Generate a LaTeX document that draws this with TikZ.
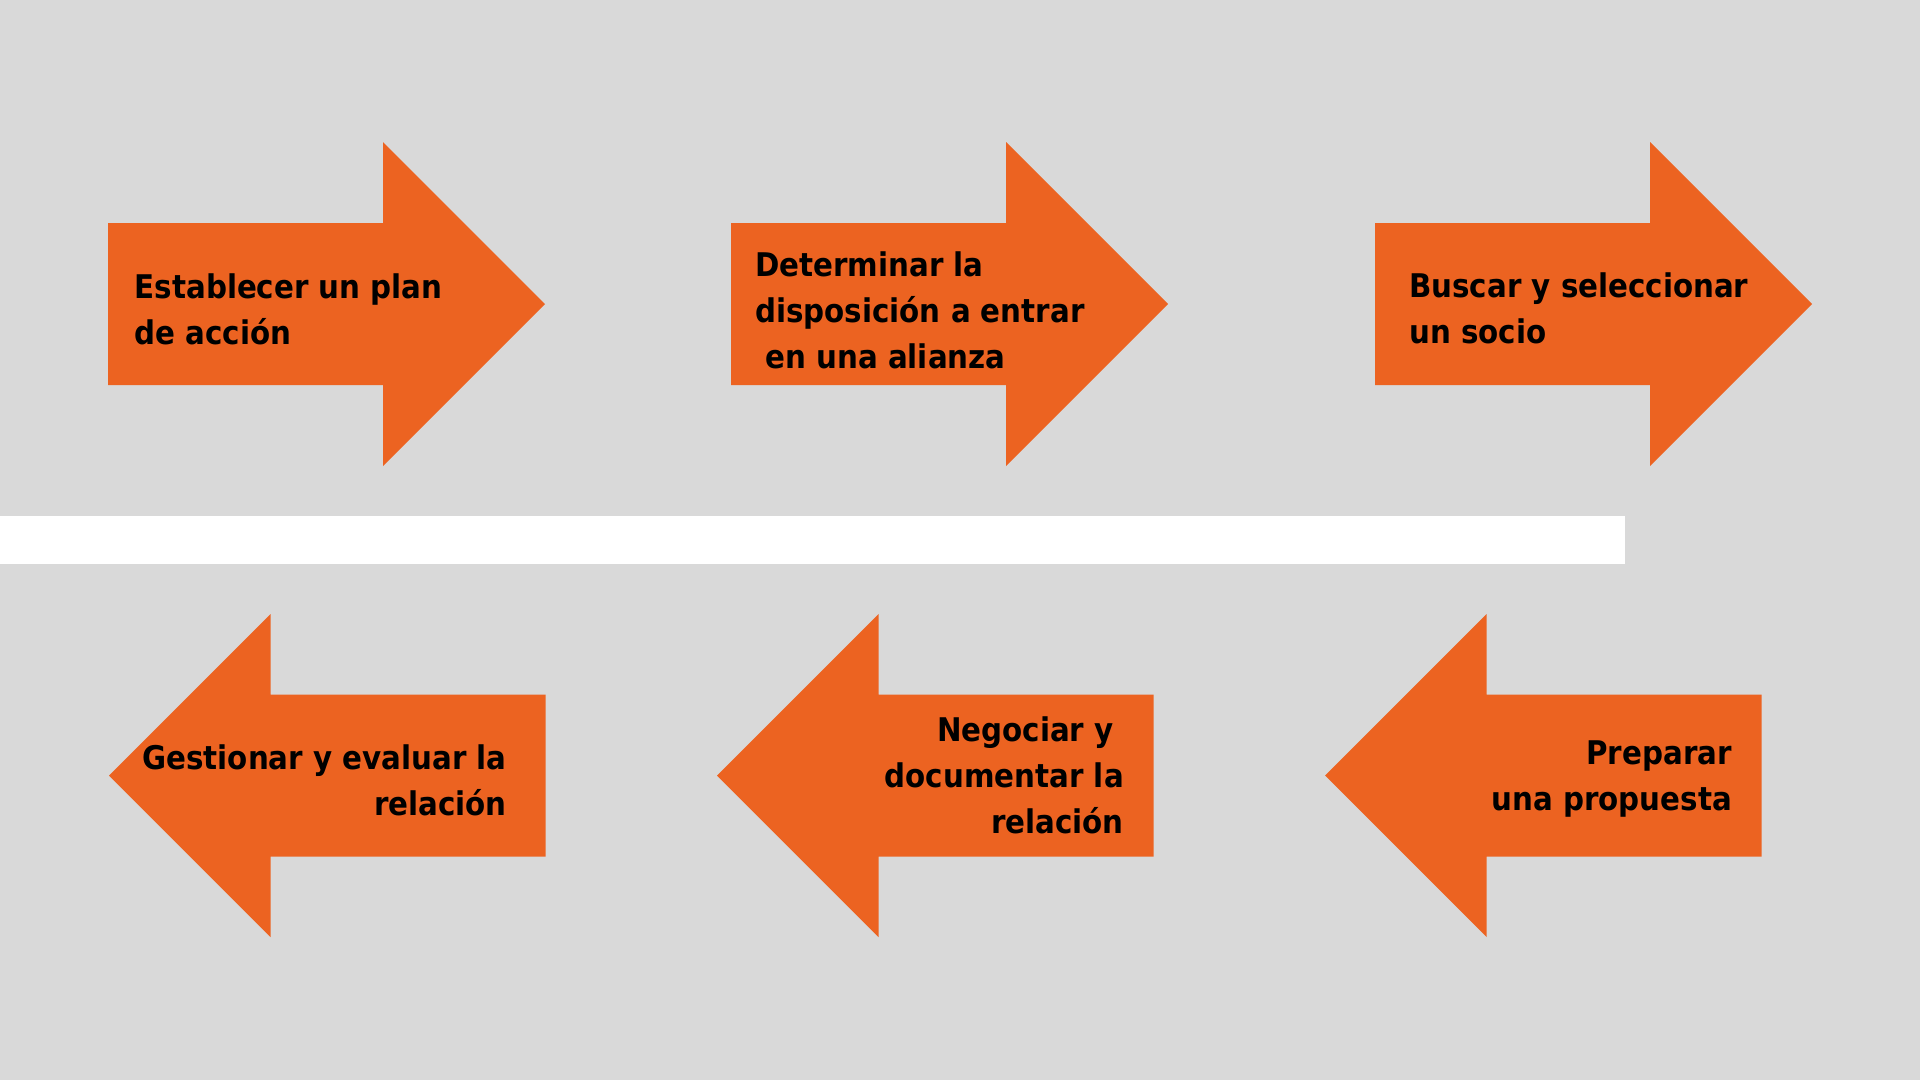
\documentclass[tikz,border=0pt]{standalone}
\usepackage{fontspec}
\setmainfont{DejaVu Sans Condensed}
\usepackage{tikz}
\definecolor{bggray}{RGB}{217,217,217}
\definecolor{steporange}{RGB}{236,99,33}
\tikzstyle{arrowfill}=[fill=steporange, draw=none]
\tikzstyle{steptext} =[inner sep=0pt, text=black,
                       font=\fontsize{32.6}{46}\selectfont\bfseries]
% arrow pointing right, (left edge, centre line)
\newcommand{\fwdarrow}[2]{\fill[arrowfill] (#1,#2) ++(0,-81) -- ++(275,0)
  -- ++(0,-81) -- ++(162,162) -- ++(-162,162) -- ++(0,-81) -- ++(-275,0) -- cycle;}
% arrow pointing left, (tip, centre line)
\newcommand{\backarrow}[2]{\fill[arrowfill] (#1,#2) -- ++(161.5,-161.5)
  -- ++(0,80.5) -- ++(275,0) -- ++(0,162) -- ++(-275,0) -- ++(0,80.5) -- cycle;}

\begin{document}
\begin{tikzpicture}[x=1pt, y=-1pt]
        \fill[bggray] (0,0) rectangle (1920,1080);
        \useasboundingbox (0,0) rectangle (1920,1080);
        \fill[white] (0,515.5) rectangle (1625,564);

        % top row (text placed at the baseline of its last line)
        \fwdarrow{108}{304}
        \fwdarrow{731}{304}
        \fwdarrow{1375}{304}
        \node[steptext, anchor=base west, align=left] (1) at (134.5,344)
            {Establecer un plan\\de acción};
        \node[steptext, anchor=base west, align=left] (2) at (755,368)
            {Determinar la\\disposición a entrar\\~en una alianza};
        \node[steptext, anchor=base west, align=left] (3) at (1409,343.5)
            {Buscar y seleccionar\\un socio};

        % bottom row
        \backarrow{1325}{775.5}
        \backarrow{717}{775.5}
        \backarrow{109}{775.5}
        \node[steptext, anchor=base east, align=right] (4) at (1732,810)
            {Preparar\\una propuesta};
        \node[steptext, anchor=base east, align=right] (5) at (1124,833.5)
            {Negociar y\kern10pt\\documentar la\\relación};
        \node[steptext, anchor=base east, align=right] (6) at (507,815)
            {Gestionar y evaluar la\\relación};
\end{tikzpicture}
\end{document}
